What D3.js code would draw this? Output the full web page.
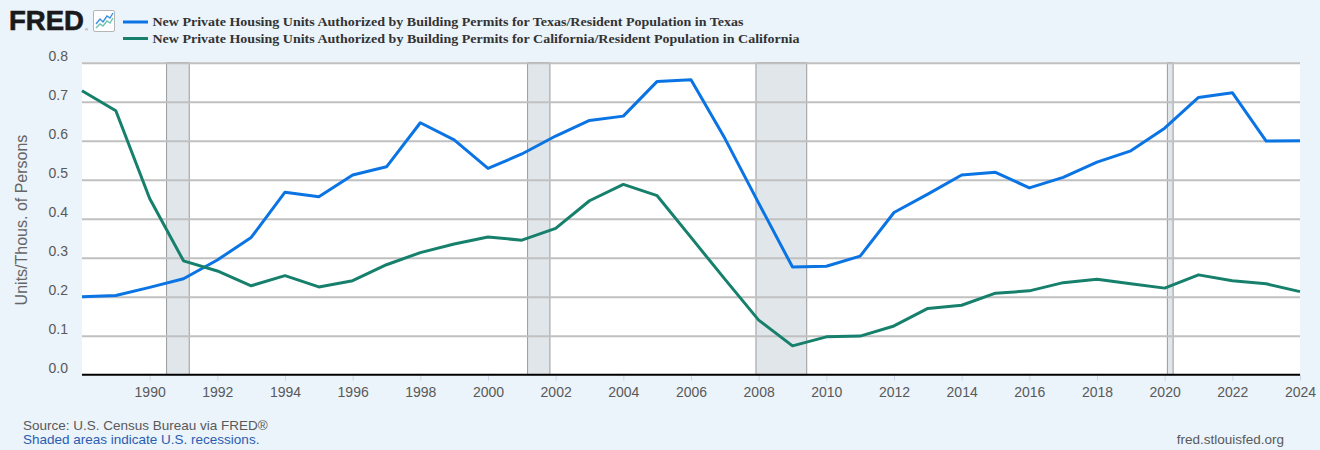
<!DOCTYPE html>
<html>
<head>
<meta charset="utf-8">
<title>FRED building permits per capita</title>
<script src="https://cdn.jsdelivr.net/npm/d3@7"></script>
<style>
body { margin: 0; background: #ebf3fb; }
text { font-family: "Liberation Sans", Arial, sans-serif; }
.tick text { fill: #595959; font-size: 14px; }
.legend text { font-family: "Liberation Serif", "Times New Roman", serif; font-weight: bold; font-size: 13px; fill: #333; }
</style>
</head>
<body>
<script>
var years = d3.range(1988, 2025);
var texas = [0.200, 0.203, 0.224, 0.246, 0.294, 0.352, 0.468, 0.456, 0.512, 0.533,
  0.646, 0.602, 0.529, 0.566, 0.612, 0.652, 0.663, 0.752, 0.756, 0.606,
  0.440, 0.276, 0.278, 0.304, 0.416, 0.463, 0.512, 0.519, 0.479, 0.506,
  0.545, 0.574, 0.632, 0.711, 0.723, 0.599, 0.600];
var california = [0.728, 0.677, 0.452, 0.292, 0.266, 0.228, 0.254, 0.225, 0.241, 0.282,
  0.313, 0.335, 0.353, 0.345, 0.375, 0.446, 0.488, 0.459, 0.352, 0.245,
  0.140, 0.074, 0.097, 0.099, 0.125, 0.170, 0.178, 0.209, 0.215, 0.236,
  0.245, 0.233, 0.222, 0.256, 0.241, 0.233, 0.213];
// recessions as [start, end] in fractional years
var recessions = [[1990.5, 1991.17], [2001.17, 2001.83], [2007.92, 2009.42], [2020.08, 2020.25]];
var yTicks = [0, 0.1, 0.2, 0.3, 0.4, 0.5, 0.6, 0.7, 0.8];
var xTicks = d3.range(1990, 2025, 2);
var seriesNames = [
  "New Private Housing Units Authorized by Building Permits for Texas/Resident Population in Texas",
  "New Private Housing Units Authorized by Building Permits for California/Resident Population in California"
];
var colors = ["#0a74e4", "#16806c"];

(function () {
var width = 1320, height = 450;
var pl = 82, pr = 1300, pt = 62.7, pb = 374.7;

var svg = d3.select("body").append("svg")
  .attr("width", width)
  .attr("height", height);

svg.append("rect").attr("width", width).attr("height", height).attr("fill", "#ebf3fb");

var x = d3.scaleLinear().domain([1988, 2024]).range([pl, pr]);
var y = d3.scaleLinear().domain([0, 0.8]).range([pb, pt]);

// plot background
svg.append("rect")
  .attr("x", pl).attr("y", pt)
  .attr("width", pr - pl).attr("height", pb - pt)
  .attr("fill", "#fff");

// recession shading
svg.append("g").selectAll("rect").data(recessions).join("rect")
  .attr("x", d => x(d[0]))
  .attr("y", pt)
  .attr("width", d => x(d[1]) - x(d[0]))
  .attr("height", pb - pt)
  .attr("fill", "#e1e6ea")
  .attr("stroke", "#9a9a9a")
  .attr("stroke-width", 1);

// gridlines + y labels
var yAxis = svg.append("g")
  .attr("transform", "translate(" + pl + ",0)")
  .call(d3.axisLeft(y).tickValues(yTicks).tickFormat(d3.format(".1f"))
    .tickSize(-(pr - pl)).tickPadding(14));
yAxis.select(".domain").remove();
yAxis.selectAll(".tick line").attr("stroke", "#c0c0c0").attr("stroke-width", 2)
  .filter(d => d === 0).remove();
yAxis.selectAll(".tick text").attr("dy", "-0.15em").attr("x", -14);

// x axis
var xAxis = svg.append("g")
  .attr("transform", "translate(0," + pb + ")")
  .call(d3.axisBottom(x).tickValues(xTicks).tickFormat(d3.format("d"))
    .tickSize(6).tickPadding(6));
xAxis.select(".domain").remove();
xAxis.selectAll(".tick line").attr("stroke", "#ccd6eb");

svg.append("line")
  .attr("x1", pl).attr("x2", pr)
  .attr("y1", pb).attr("y2", pb)
  .attr("stroke", "#000").attr("stroke-width", 2);

// series lines
var line = d3.line().x((d, i) => x(years[i])).y(d => y(d));
[texas, california].forEach(function (s, i) {
  svg.append("path")
    .datum(s)
    .attr("d", line)
    .attr("fill", "none")
    .attr("stroke", colors[i])
    .attr("stroke-width", 3)
    .attr("stroke-linejoin", "round");
});

// y axis title
svg.append("text")
  .attr("transform", "translate(27,220) rotate(-90)")
  .attr("text-anchor", "middle")
  .attr("fill", "#666")
  .attr("font-size", "16px")
  .text("Units/Thous. of Persons");

// header: logo
svg.append("text")
  .attr("x", 9).attr("y", 30)
  .attr("font-size", "27px")
  .attr("font-weight", "900")
  .attr("textLength", 75)
  .attr("lengthAdjust", "spacingAndGlyphs")
  .attr("fill", "#1a1a1a")
  .attr("stroke", "#1a1a1a")
  .attr("stroke-width", 0.6)
  .text("FRED");
svg.append("text")
  .attr("x", 85).attr("y", 31)
  .attr("font-size", "4px")
  .attr("fill", "#555")
  .text("®");
var icon = svg.append("g").attr("transform", "translate(93,10)");
icon.append("rect").attr("x", 0.5).attr("y", 0.5).attr("width", 21).attr("height", 21)
  .attr("rx", 1.5).attr("fill", "#fff").attr("stroke", "#b5b5b5");
icon.append("path").attr("d", "M3,14 L7,9 L10,12 L14,6 L17,8 L20,3")
  .attr("fill", "none").attr("stroke", "#3a8ee6").attr("stroke-width", 1.4);
icon.append("path").attr("d", "M3,18 L7,14 L10,16 L14,11 L17,13 L20,8")
  .attr("fill", "none").attr("stroke", "#6cc4b0").attr("stroke-width", 1.4);

// legend
var legend = svg.append("g").attr("class", "legend");
var legendWidths = [591, 647];
seriesNames.forEach(function (name, i) {
  var ly = 22 + i * 16.5;
  legend.append("line")
    .attr("x1", 123).attr("x2", 148)
    .attr("y1", ly).attr("y2", ly)
    .attr("stroke", colors[i]).attr("stroke-width", 3);
  legend.append("text")
    .attr("x", 152.5).attr("y", ly + 4)
    .attr("textLength", legendWidths[i])
    .attr("lengthAdjust", "spacingAndGlyphs")
    .text(name);
});

// footer
svg.append("text")
  .attr("x", 23).attr("y", 430)
  .attr("font-size", "13.5px").attr("fill", "#595959")
  .text("Source: U.S. Census Bureau via FRED®");
svg.append("text")
  .attr("x", 23).attr("y", 444)
  .attr("font-size", "13.5px").attr("fill", "#2a5db0")
  .text("Shaded areas indicate U.S. recessions.");
svg.append("text")
  .attr("x", 1284).attr("y", 444)
  .attr("text-anchor", "end")
  .attr("font-size", "13.5px").attr("fill", "#595959")
  .text("fred.stlouisfed.org");
})();
</script>
</body>
</html>
